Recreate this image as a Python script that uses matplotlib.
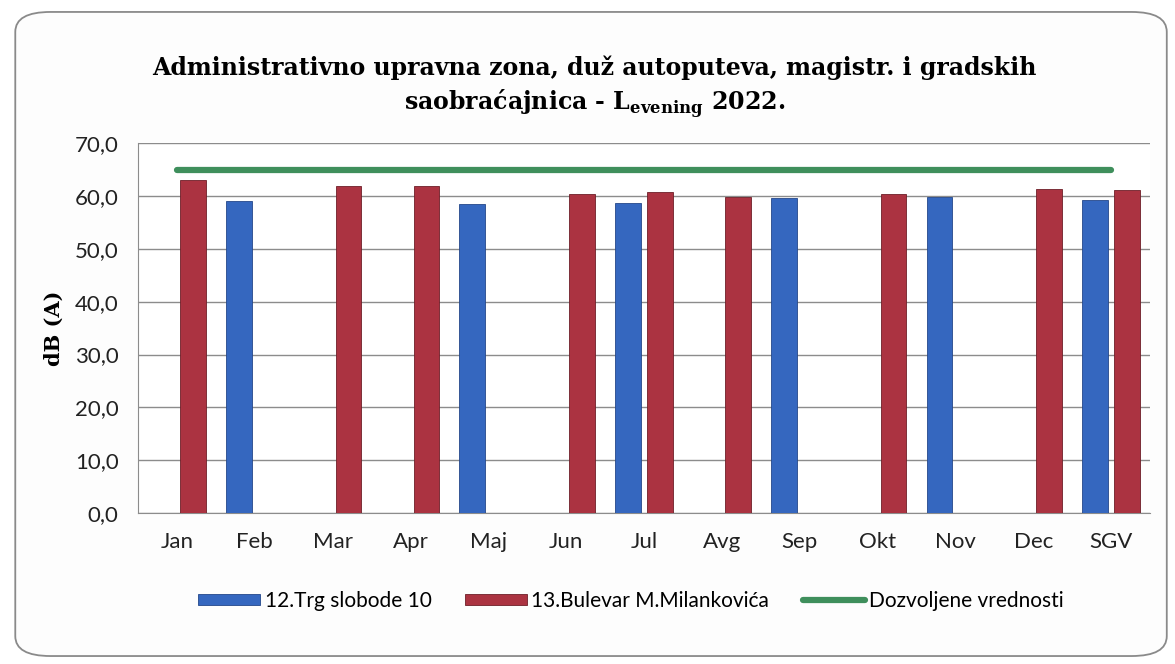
import matplotlib
matplotlib.use("Agg")
import matplotlib.pyplot as plt
import numpy as np
from matplotlib.patches import FancyBboxPatch

# ── Data ──────────────────────────────────────────────────────────────────
months = ["Jan", "Feb", "Mar", "Apr", "Maj", "Jun", "Jul", "Avg", "Sep",
          "Okt", "Nov", "Dec", "SGV"]
trg_slobode = [np.nan, 59.0, np.nan, np.nan, 58.4, np.nan, 58.7, np.nan,
               59.7, np.nan, 59.8, np.nan, 59.2]
bulevar = [63.0, np.nan, 61.9, 61.8, np.nan, 60.4, 60.8, 59.8, np.nan,
           60.3, np.nan, 61.3, 61.2]
limit = [65.0] * len(months)

series_labels = ["12.Trg slobode 10", "13.Bulevar M.Milankovića",
                 "Dozvoljene vrednosti"]

BLUE = "#3567bf"
RED = "#ab3341"
GREEN = "#3f8f5c"

plt.rcParams["mathtext.fontset"] = "custom"
plt.rcParams["mathtext.rm"] = "DejaVu Serif:bold"
plt.rcParams["mathtext.bf"] = "DejaVu Serif:bold"

fig = plt.figure(figsize=(11.75, 6.64), dpi=100)
fig.patch.set_facecolor("white")

# rounded chart-area border
border = FancyBboxPatch((0.013, 0.012), 0.98, 0.97,
                        boxstyle="round,pad=0,rounding_size=0.03",
                        transform=fig.transFigure, facecolor="#fdfdfd",
                        edgecolor="#8a8a8a", linewidth=1.3, zorder=-5)
fig.patches.append(border)

ax = fig.add_axes([0.1174, 0.2274, 0.8613, 0.557])
ax.set_facecolor("white")

x = np.arange(len(months))
w = 0.33
b1 = ax.bar(x - 0.205, trg_slobode, width=w, color=BLUE, edgecolor="#24478a",
            linewidth=0.6, zorder=3)
b2 = ax.bar(x + 0.205, bulevar, width=w, color=RED, edgecolor="#6e1f28",
            linewidth=0.6, zorder=3)
ln, = ax.plot(x, limit, color=GREEN, lw=4.5, solid_capstyle="round", zorder=4)

ax.set_xlim(-0.5, len(months) - 0.5)
ax.set_ylim(0, 70)
ax.set_yticks(np.arange(0, 71, 10))
ax.set_yticklabels([f"{v:.1f}".replace(".", ",") for v in range(0, 71, 10)],
                   fontfamily="Lato", fontsize=16, color="#222222")
ax.set_xticks(x)
ax.set_xticklabels(months, fontfamily="Lato", fontsize=16, color="#222222")
ax.tick_params(axis="y", length=0, pad=14)
ax.tick_params(axis="x", length=0, pad=14)

ax.grid(axis="y", color="#8c8c8c", lw=1.0, zorder=0)
for s in ["top", "right"]:
    ax.spines[s].set_visible(False)
ax.spines["left"].set_color("#8c8c8c")
ax.spines["bottom"].set_color("#8c8c8c")

ax.set_ylabel("dB (A)", fontfamily="DejaVu Serif", fontweight="bold",
              fontsize=15, labelpad=8)

fig.text(0.506, 0.868,
         "Administrativno upravna zona, duž autoputeva, magistr. i gradskih\n"
         "saobraćajnica - L$_{\\rm evening}$ 2022.",
         ha="center", va="center", fontfamily="DejaVu Serif",
         fontweight="bold", fontsize=17, linespacing=1.3)

fig.legend([b1, b2, ln], series_labels, loc="center",
           bbox_to_anchor=(0.537, 0.095), ncol=3, frameon=False,
           prop={"family": "Lato", "size": 15},
           handlelength=3.0, handleheight=0.45, columnspacing=1.6,
           handletextpad=0.2)

fig.savefig("out.png", dpi=100)
